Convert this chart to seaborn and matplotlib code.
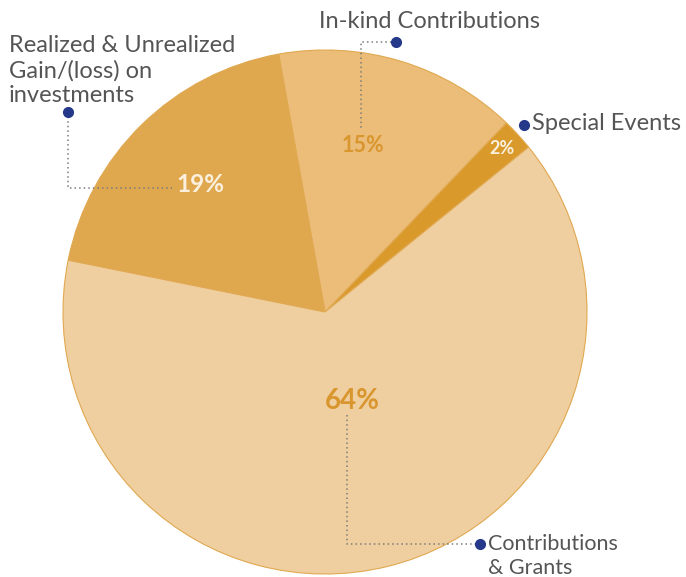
import matplotlib
matplotlib.use('Agg')
import matplotlib.pyplot as plt
import numpy as np
import seaborn as sns

# %%
categories = ['Special Events', 'In-kind Contributions',
              'Realized & Unrealized\nGain/(loss) on\ninvestments', 'Contributions\n& Grants']
values = [2, 15, 19, 64]
pct_labels = ['2%', '15%', '19%', '64%']

slice_colors = ['#D99A2B', '#EBBD78', '#DFA74E', '#EFCFA0']
pct_colors = ['#FBF0DD', '#D9962E', '#FBF0DD', '#D9962E']
pct_sizes = [13, 15.5, 17.5, 20]
pct_radius = [0.92, 0.65, 0.68, 0.355]
pct_shift = [0, 4, 0, 3]  # degrees

sns.set_theme(style='white')
plt.rcParams['font.family'] = ['Lato', 'DejaVu Sans']

# %%
W, H = 686, 577
fig = plt.figure(figsize=(W / 100, H / 100), dpi=100)
ax = fig.add_axes([0, 0, 1, 1])

cx, cy, R = 325, H - 312, 262
wedges, _ = ax.pie(values, colors=slice_colors, startangle=39, counterclock=True,
                   center=(cx, cy), radius=R,
                   wedgeprops=dict(edgecolor='#E0A850', linewidth=0.8))
ax.set_xlim(0, W)
ax.set_ylim(0, H)
ax.set_aspect('equal')
ax.axis('off')

for w, lab, col, fs, rf, sh in zip(wedges, pct_labels, pct_colors, pct_sizes, pct_radius, pct_shift):
    mid = np.deg2rad((w.theta1 + w.theta2) / 2 + sh)
    ax.text(cx + rf * R * np.cos(mid), cy + rf * R * np.sin(mid), lab,
            ha='center', va='center', color=col, fontsize=fs, fontweight='bold')

# leader lines (pixel coords, top-left origin)
def py(y): return H - y

line_kw = dict(color='#7C7C7C', linestyle=(0, (1, 2)), linewidth=1.1)
dot_kw = dict(color='#25388A', markersize=7, marker='o', linestyle='none')
text_kw = dict(color='#555555', fontsize=17)

# realized
ax.plot([68, 68, 172], [py(112), py(188), py(188)], **line_kw)
ax.plot([68], [py(112)], **dot_kw)
for i, line in enumerate(categories[2].split('\n')):
    ax.text(9, py(46 + 25 * i), line, ha='left', va='center', **text_kw)

# in-kind
ax.plot([396, 361, 361], [py(42), py(42), py(128)], **line_kw)
ax.plot([396], [py(42)], **dot_kw)
ax.text(319, py(22), categories[1], ha='left', va='center', **text_kw)

# special events
ax.plot([524], [py(125)], **dot_kw)
ax.text(532, py(124), categories[0], ha='left', va='center', **text_kw)

# contributions
ax.plot([347, 347, 480], [py(415), py(544), py(544)], **line_kw)
ax.plot([480], [py(544)], **dot_kw)
for i, line in enumerate(categories[3].split('\n')):
    ax.text(488, py(544 + 24 * i), line, ha='left', va='center', color='#555555', fontsize=15.5)

fig.savefig('out.png', dpi=100)
